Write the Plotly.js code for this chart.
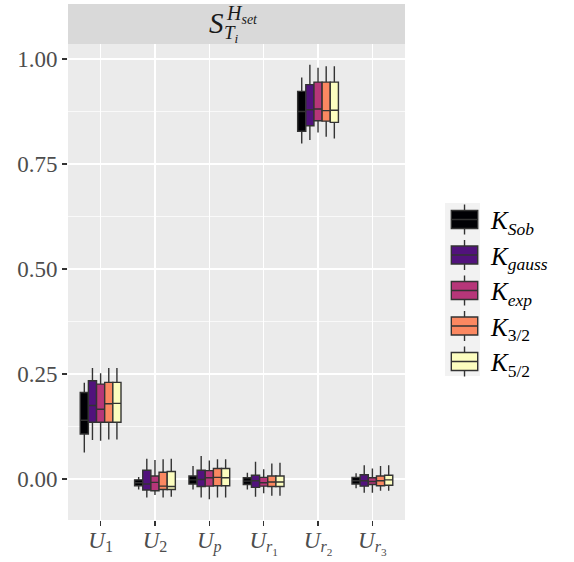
<!DOCTYPE html>
<html>
<head>
<meta charset="utf-8">
<script src="https://cdn.plot.ly/plotly-3.0.1.min.js"></script>
<style>html,body{margin:0;padding:0;background:#fff;}#chart{width:574px;height:562px;}</style>
</head>
<body>
<div id="chart"></div>
<script>
// Categories (inputs)
const categories = ["U1", "U2", "Up", "Ur1", "Ur2", "Ur3"];
const tickLabels = ["<i>U</i><sub>1</sub>", "<i>U</i><sub>2</sub>", "<i>U</i><sub><i>p</i></sub>",
  "<i>U</i><sub><i>r</i><sub>1</sub></sub>", "<i>U</i><sub><i>r</i><sub>2</sub></sub>", "<i>U</i><sub><i>r</i><sub>3</sub></sub>"];

// Kernels (series)
const seriesNames = ["<i>K</i><sub><i>Sob</i></sub>", "<i>K</i><sub><i>gauss</i></sub>", "<i>K</i><sub><i>exp</i></sub>",
  "<i>K</i><sub>3/2</sub>", "<i>K</i><sub>5/2</sub>"];
const seriesColors = ["#000004", "#51127C", "#B63679", "#FB8861", "#FCFDBF"];

// Box statistics per series, per category (U1, U2, Up, Ur1, Ur2, Ur3)
const lowerSob  = [0.063, -0.025, -0.025, -0.025, 0.799, -0.022];
const q1Sob     = [0.107, -0.016, -0.012, -0.013, 0.828, -0.012];
const medSob    = [0.140, -0.009, -0.002, -0.005, 0.875, -0.004];
const q3Sob     = [0.206, -0.002, 0.007, 0.003, 0.923, 0.004];
const upperSob  = [0.229, 0.005, 0.031, 0.015, 0.956, 0.014];

const lowerGauss = [0.093, -0.044, -0.044, -0.042, 0.807, -0.033];
const q1Gauss    = [0.135, -0.026, -0.018, -0.020, 0.841, -0.017];
const medGauss   = [0.175, -0.012, -0.001, -0.004, 0.879, -0.004];
const q3Gauss    = [0.234, 0.021, 0.021, 0.009, 0.939, 0.010];
const upperGauss = [0.264, 0.048, 0.055, 0.041, 0.986, 0.033];

const lowerExp = [0.091, -0.038, -0.048, -0.034, 0.825, -0.033];
const q1Exp    = [0.135, -0.028, -0.017, -0.017, 0.853, -0.013];
const medExp   = [0.166, -0.008, 0.003, -0.009, 0.881, -0.006];
const q3Exp    = [0.226, 0.007, 0.020, 0.004, 0.945, 0.003];
const upperExp = [0.252, 0.045, 0.044, 0.023, 0.979, 0.025];

const lower32 = [0.094, -0.044, -0.044, -0.040, 0.815, -0.028];
const q132    = [0.135, -0.025, -0.016, -0.018, 0.852, -0.016];
const med32   = [0.179, -0.017, 0.004, -0.007, 0.877, -0.004];
const q332    = [0.230, 0.016, 0.025, 0.007, 0.945, 0.007];
const upper32 = [0.264, 0.047, 0.047, 0.037, 0.983, 0.031];

const lower52 = [0.094, -0.042, -0.044, -0.040, 0.811, -0.028];
const q152    = [0.135, -0.025, -0.016, -0.018, 0.849, -0.015];
const med52   = [0.180, -0.018, 0.003, -0.007, 0.878, -0.002];
const q352    = [0.230, 0.018, 0.025, 0.007, 0.945, 0.009];
const upper52 = [0.264, 0.048, 0.047, 0.039, 0.983, 0.033];

const stats = [
  [lowerSob, q1Sob, medSob, q3Sob, upperSob],
  [lowerGauss, q1Gauss, medGauss, q3Gauss, upperGauss],
  [lowerExp, q1Exp, medExp, q3Exp, upperExp],
  [lower32, q132, med32, q332, upper32],
  [lower52, q152, med52, q352, upper52]
];

const yTicks = [0, 0.25, 0.5, 0.75, 1.0];
const yTickText = ["0.00", "0.25", "0.50", "0.75", "1.00"];
const yMinor = [0.125, 0.375, 0.625, 0.875];

const traces = stats.map((s, i) => ({
  type: "box",
  name: seriesNames[i],
  x: categories,
  lowerfence: s[0], q1: s[1], median: s[2], q3: s[3], upperfence: s[4],
  fillcolor: seriesColors[i],
  line: {color: "#333333", width: 1.4},
  whiskerwidth: 0,
  boxpoints: false,
  hoverinfo: "skip"
}));

const serif = "'Liberation Serif', 'DejaVu Serif', serif";

const layout = {
  width: 574, height: 562,
  margin: {l: 68, r: 169, t: 44, b: 42, pad: 0},
  paper_bgcolor: "#ffffff",
  plot_bgcolor: "#EBEBEB",
  boxmode: "group",
  boxgap: 0.25,
  boxgroupgap: 0,
  font: {family: serif, color: "#4D4D4D", size: 22},
  xaxis: {
    type: "category",
    categoryorder: "array", categoryarray: categories,
    range: [-0.6, 5.6],
    tickmode: "array", tickvals: categories, ticktext: tickLabels,
    showgrid: true, gridcolor: "#ffffff", gridwidth: 1.4,
    ticks: "outside", ticklen: 5, tickcolor: "#333333", tickwidth: 1.2,
    tickfont: {family: serif, size: 23, color: "#4D4D4D"},
    zeroline: false, showline: false, fixedrange: true
  },
  yaxis: {
    range: [-0.0976, 1.0357],
    tickmode: "array", tickvals: yTicks, ticktext: yTickText,
    showgrid: true, gridcolor: "#ffffff", gridwidth: 1.4,
    minor: {tickvals: yMinor, showgrid: true, gridcolor: "#ffffff", gridwidth: 0.7, ticks: ""},
    ticks: "outside", ticklen: 5, tickcolor: "#333333", tickwidth: 1.2,
    tickfont: {family: serif, size: 23, color: "#4D4D4D"},
    zeroline: false, showline: false, fixedrange: true
  },
  showlegend: true,
  legend: {
    x: 1.098, xanchor: "left", y: 0.679, yanchor: "top",
    bgcolor: "rgba(0,0,0,0)",
    font: {family: serif, size: 25, color: "#000000"},
    tracegroupgap: 0, itemwidth: 43
  },
  shapes: [
    {type: "rect", xref: "paper", yref: "paper", x0: 0, x1: 1, y0: 1, y1: 1 + 40/476,
     fillcolor: "#D9D9D9", line: {width: 0}, layer: "below"},
    {type: "rect", xref: "paper", yref: "paper", x0: 1.1187, x1: 1.2226, y0: 0.3025, y1: 0.666,
     fillcolor: "#F2F2F2", line: {width: 0}, layer: "below"}
  ],
  annotations: [
    {xref: "paper", yref: "paper", x: 0.4407, y: 1.0441, xanchor: "center", yanchor: "middle",
     text: "<i>S</i>", showarrow: false, font: {family: serif, size: 29, color: "#1A1A1A"}},
    {xref: "paper", yref: "paper", x: 0.5178, y: 1.0629, xanchor: "center", yanchor: "middle",
     text: "<i>H</i><sub><i>set</i></sub>", showarrow: false, font: {family: serif, size: 20, color: "#1A1A1A"}},
    {xref: "paper", yref: "paper", x: 0.4837, y: 1.0211, xanchor: "center", yanchor: "middle",
     text: "<i>T</i><sub><i>i</i></sub>", showarrow: false, font: {family: serif, size: 19, color: "#1A1A1A"}}
  ]
};

Plotly.newPlot("chart", traces, layout, {displayModeBar: false, staticPlot: true}).then(gd => {
  const NS = "http://www.w3.org/2000/svg";
  // enlarge legend key glyphs to resemble ggplot boxplot keys (box + median + whisker stubs)
  gd.querySelectorAll(".legend .legendpoints path").forEach(p => {
    const t = p.getAttribute("transform") || "";
    p.setAttribute("transform", t + " scale(2.2,1.5)");
    p.style.vectorEffect = "non-scaling-stroke";
    const extra = document.createElementNS(NS, "path");
    extra.setAttribute("d", "M-6,0H6M0,-6V-10M0,6V10");
    extra.setAttribute("transform", t + " scale(2.2,1.5)");
    extra.style.vectorEffect = "non-scaling-stroke";
    extra.style.stroke = "#333333";
    extra.style.strokeWidth = "1.4px";
    extra.style.fill = "none";
    p.parentNode.appendChild(extra);
  });
  // nudge x tick labels up slightly (closer to the axis, as in ggplot)
  gd.querySelectorAll(".xaxislayer-above .xtick text").forEach(tx => {
    const t = tx.getAttribute("transform") || "";
    tx.setAttribute("transform", t + " translate(0,-6)");
  });
});
</script>
</body>
</html>
